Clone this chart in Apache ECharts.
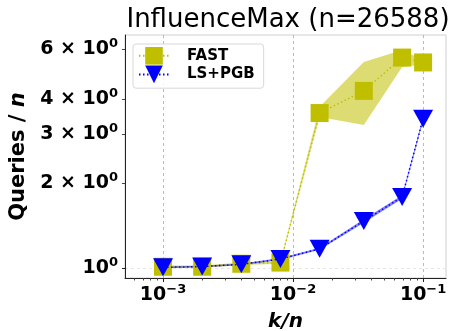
<!DOCTYPE html>
<html><head><meta charset="utf-8">
<script src="https://cdn.jsdelivr.net/npm/echarts@6/dist/echarts.min.js"></script>
<style>html,body{margin:0;padding:0;background:#fff}#c{width:453px;height:331px}</style>
</head><body><div id="c"></div>
<script>
const kOverN = [0.001, 0.002, 0.004, 0.008, 0.016, 0.035, 0.069, 0.1];
const fastMean = [1.01, 1.01, 1.035, 1.045, 3.56, 4.27, 5.61, 5.39];
const fastLow  = [1.0, 1.0, 1.025, 1.035, 3.45, 3.23, 5.19, 5.30];
const fastHigh = [1.02, 1.02, 1.045, 1.055, 3.75, 5.41, 5.97, 5.50];
const lsMean = [1.005, 1.012, 1.03, 1.076, 1.17, 1.47, 1.79, 3.40];
const lsLow  = [0.998, 1.005, 1.023, 1.068, 1.16, 1.45, 1.765, 3.35];
const lsHigh = [1.012, 1.019, 1.037, 1.084, 1.18, 1.49, 1.815, 3.45];
const xMajorTicks = [0.001, 0.01, 0.1];
const xMinorTicks = [0.0006,0.0007,0.0008,0.0009,0.002,0.003,0.004,0.005,0.006,0.007,0.008,0.009,0.02,0.03,0.04,0.05,0.06,0.07,0.08,0.09];
const yTickValues = [1, 2, 3, 4, 6];
const xExpLabels = {0.001: '−3', 0.01: '−2', 0.1: '−1'};
const yMantissa = {1: '', 2: '2 × ', 3: '3 × ', 4: '4 × ', 6: '6 × '};

const FONT = 'DejaVu Sans';
const pairs = (xs, ys) => xs.map((x, i) => [x, ys[i]]);

function bandSeries(lo, hi, color) {
  return {
    type: 'custom', silent: true, z: 1, xAxisIndex: 0, yAxisIndex: 0,
    data: kOverN.map((x, i) => [x, lo[i], hi[i]]),
    encode: {x: 0, y: [1, 2]},
    renderItem: (params, api) => {
      if (params.dataIndex !== 0) return;
      const up = kOverN.map((x, i) => api.coord([x, hi[i]]));
      const dn = kOverN.map((x, i) => api.coord([x, lo[i]])).reverse();
      return {type: 'polygon', shape: {points: up.concat(dn)}, style: {fill: color}};
    }
  };
}

const chart = echarts.init(document.getElementById('c'), null, {renderer: 'canvas'});
const supRich = {
  b: {fontFamily: FONT, fontWeight: 'bold', fontSize: 19, color: '#000', lineHeight: 24},
  s: {fontFamily: FONT, fontWeight: 'bold', fontSize: 13, color: '#000', lineHeight: 14, verticalAlign: 'top'}
};
chart.setOption({
  animation: false,
  title: {
    text: 'InfluenceMax (n=26588)', left: 283, top: 2, textAlign: 'center',
    textStyle: {fontFamily: FONT, fontWeight: 'normal', fontSize: 26, color: '#000'}
  },
  grid: {left: 125, right: 7, top: 35, bottom: 53, show: true, borderColor: '#d0d0d0', borderWidth: 1,
    containLabel: false, outerBoundsMode: 'none'},
  legend: {
    data: ['FAST', 'LS+PGB'], orient: 'vertical', left: 133, top: 44,
    itemWidth: 30, itemHeight: 22, itemGap: 1,
    padding: [3, 9, 5, 5],
    borderColor: '#d8d8d8', borderWidth: 1, borderRadius: 3, backgroundColor: 'rgba(255,255,255,0.85)',
    textStyle: {fontFamily: FONT, fontWeight: 'bold', fontSize: 15, color: '#000', padding: [0, 0, 0, 13]}
  },
  xAxis: [{
    type: 'log', min: 0.00051, max: 0.15,
    name: '{i|k/n}', nameLocation: 'middle', nameGap: 34,
    nameTextStyle: {rich: {i: {fontFamily: FONT, fontWeight: 'bold', fontStyle: 'italic', fontSize: 20, color: '#000'}}},
    axisLine: {show: true, lineStyle: {color: '#222', width: 1}},
    axisTick: {show: true, length: 4, customValues: xMajorTicks, lineStyle: {color: '#222'}},
    axisLabel: {customValues: xMajorTicks, margin: 5, formatter: v => {
      const key = Object.keys(xExpLabels).find(k => Math.abs(+k - v) / v < 1e-6);
      return '{b|10}{s|' + xExpLabels[key] + '}';
    }, rich: supRich},
    splitLine: {show: true, lineStyle: {color: '#aaa', type: [3, 3], width: 0.8}}
  }, {
    type: 'log', min: 0.00051, max: 0.15, position: 'bottom',
    axisLine: {show: false},
    axisTick: {show: true, length: 2.5, customValues: xMinorTicks, lineStyle: {color: '#444'}},
    axisLabel: {show: false}, splitLine: {show: false}
  }],
  yAxis: [{
    type: 'log', min: 0.921, max: 6.75,
    name: '{a|Queries / }{i|n}', nameLocation: 'middle', nameGap: 95, nameRotate: 90,
    nameTextStyle: {rich: {
      a: {fontFamily: FONT, fontWeight: 'bold', fontSize: 21, color: '#000'},
      i: {fontFamily: FONT, fontWeight: 'bold', fontStyle: 'italic', fontSize: 21, color: '#000'}
    }},
    axisLine: {show: true, lineStyle: {color: '#222', width: 1}},
    axisTick: {show: true, length: 3, customValues: [1], lineStyle: {color: '#222'}},
    axisLabel: {customValues: yTickValues, margin: 7, formatter: v => {
      const key = yTickValues.find(t => Math.abs(t - v) / t < 1e-6);
      return '{b|' + yMantissa[key] + '10}{s|0}';
    }, rich: supRich},
    splitLine: {show: true, lineStyle: {color: '#e0e0e0', type: [3, 3], width: 0.8}}
  }, {
    type: 'log', min: 0.921, max: 6.75, position: 'left',
    axisLine: {show: false},
    axisTick: {show: true, length: 3, customValues: [2, 3, 4, 6], lineStyle: {color: '#444'}},
    axisLabel: {show: false}, splitLine: {show: false}
  }],
  series: [
    bandSeries(fastLow, fastHigh, 'rgba(191,191,0,0.55)'),
    bandSeries(lsLow, lsHigh, 'rgba(0,0,255,0.5)'),
    {name: 'FAST', type: 'line', data: pairs(kOverN, fastMean), symbol: 'rect', symbolSize: 18,
      itemStyle: {color: '#bfbf00'}, lineStyle: {color: '#bfbf00', width: 1.5, type: [1.5, 2.5]}, z: 3},
    {name: 'LS+PGB', type: 'line', data: pairs(kOverN, lsMean), symbol: 'triangle', symbolRotate: 180, symbolSize: [20, 18],
      itemStyle: {color: '#0000ff'}, lineStyle: {color: '#0000ff', width: 1.5, type: [1.5, 2.5]}, z: 4}
  ]
});
</script></body></html>
